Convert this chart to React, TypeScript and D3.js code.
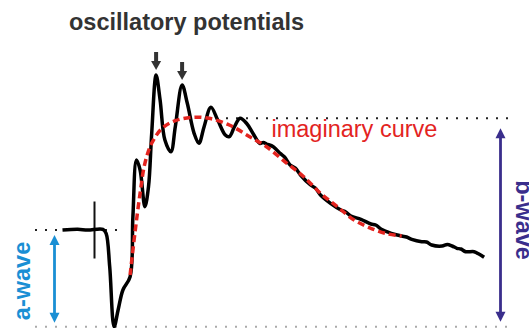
import * as d3 from 'd3';
import { useEffect, useRef } from 'react';

// ERG trace, time in ms (flash at 0), amplitude in µV
const traceTime = [-8.0, -4.2, -1.7, 2.1, 2.9, 3.8, 4.9, 5.9, 7.1, 8.9, 9.6, 10.5, 11.4, 12.6, 13.5, 14.3, 15.4, 16.4, 17.6, 19.1, 20.2, 21.9, 23.2, 24.9, 26.1, 27.4, 29.1, 30.8, 32.7, 33.7, 35.0, 36.4, 38.0, 39.6, 41.3, 42.2, 43.0, 44.7, 46.4, 47.5, 48.9, 50.2, 51.5, 54.0, 55.2, 56.5, 59.0, 61.6, 62.8, 64.1, 66.6, 69.1, 70.3, 71.7, 74.2, 76.8, 78.0, 79.3, 81.8, 83.0, 84.3, 86.9, 88.2, 89.4, 90.6, 91.6, 92.8, 94.9, 96.1, 97.4];
const traceValue = [0, 1.4, 0, 1.4, -6.6, -73.4, -193.4, -160, -120, -93.4, 26.6, 140, 120, 46.6, 86.6, 193.4, 310, 260, 180, 156.6, 206.6, 290, 253.4, 193.4, 173.4, 206.6, 245.4, 220, 190, 186.6, 206.6, 223.4, 213.4, 193.4, 173.4, 175, 172, 166.6, 153.4, 146, 130, 124, 110, 90, 84, 70, 53.4, 40, 36, 28, 21.4, 12, 10, 1.4, -6.6, -12, -14, -18.6, -23.4, -24, -30, -32, -29, -32, -36.6, -38, -43.4, -43.4, -48, -54.6];

// smooth "imaginary curve" without the oscillations
const fitTime = [8.9, 10.1, 11.4, 12.6, 14.3, 16.9, 20.2, 24.5, 28.6, 33.7, 38.8, 43.0, 48.1, 52.3, 56.5, 60.7, 64.9, 69.1, 73.4, 76.8];
const fitValue = [-90, -6.6, 73.4, 133.4, 173.4, 203.4, 218.6, 225.4, 223.4, 210, 186.6, 166.6, 133.4, 106.6, 73.4, 46.6, 20, 3.4, -8, -12];

// oscillatory potential peaks marked with arrows
const opTime = [15.4, 21.9];
const opValue = [310, 290];

const baseline = 0;
const aTrough = -193.4;
const bPeak = 223.4;

export default function App() {
    const ref = useRef(null);
    const width = 529, height = 328;

    useEffect(() => {
        drawChart();
    }, []);

    function drawChart() {
        const svg = d3.select(ref.current);
        svg.selectAll('*').remove();

        const x = d3.scaleLinear().domain([-10, 100]).range([54.5, 494.5]);
        const y = d3.scaleLinear().domain([-200, 300]).range([330, 80]);

        const dotted = (x1, x2, v, color) => {
            svg.append('line')
                .attr('x1', x1).attr('x2', x2)
                .attr('y1', y(v)).attr('y2', y(v))
                .attr('stroke', color)
                .attr('stroke-width', 2)
                .attr('stroke-dasharray', '2 8');
        };
        dotted(35, 117, baseline, '#222');
        dotted(216, 512, bPeak, '#222');
        dotted(35, 514, aTrough, '#aaa');

        // stimulus marker
        svg.append('line')
            .attr('x1', x(0)).attr('x2', x(0))
            .attr('y1', 201.5).attr('y2', 258.5)
            .attr('stroke', '#111')
            .attr('stroke-width', 2);

        // double headed arrows
        const arrow = (ax, y1, y2, color) => {
            const hw = 5, hl = 10;
            svg.append('line')
                .attr('x1', ax).attr('x2', ax)
                .attr('y1', y1 + hl - 1).attr('y2', y2 - hl + 1)
                .attr('stroke', color).attr('stroke-width', 2.8);
            svg.append('path')
                .attr('d', `M${ax},${y1} L${ax + hw},${y1 + hl} L${ax - hw},${y1 + hl} Z`)
                .attr('fill', color);
            svg.append('path')
                .attr('d', `M${ax},${y2} L${ax + hw},${y2 - hl} L${ax - hw},${y2 - hl} Z`)
                .attr('fill', color);
        };
        arrow(54.5, y(baseline) + 5, y(aTrough) - 4, '#1a8fd4');
        arrow(500.5, y(bPeak) + 10, y(aTrough) - 5, '#3a2e8c');

        const line = d3.line()
            .x(function (d) { return x(d[0]); })
            .y(function (d) { return y(d[1]); })
            .curve(d3.curveCatmullRom);

        // black ERG trace
        svg.append('path')
            .attr('d', line(traceTime.map((t, i) => [t, traceValue[i]])))
            .attr('fill', 'none')
            .attr('stroke', '#000')
            .attr('stroke-width', 3.5)
            .attr('stroke-linejoin', 'round');

        // red dashed imaginary curve
        svg.append('path')
            .attr('d', line(fitTime.map((t, i) => [t, fitValue[i]])))
            .attr('fill', 'none')
            .attr('stroke', '#e3241f')
            .attr('stroke-width', 3.5)
            .attr('stroke-dasharray', '7 4');

        // small arrows above OP peaks
        opTime.forEach((t, i) => {
            const ax = x(t), tip = y(opValue[i]) - 5;
            svg.append('rect')
                .attr('x', ax - 2).attr('y', tip - 18)
                .attr('width', 4).attr('height', 10)
                .attr('fill', '#333');
            svg.append('path')
                .attr('d', `M${ax - 5},${tip - 9} L${ax + 5},${tip - 9} L${ax},${tip} Z`)
                .attr('fill', '#333');
        });

        svg.append('text')
            .attr('x', 69).attr('y', 30)
            .attr('font-family', 'Liberation Sans, Arial, sans-serif')
            .attr('font-weight', 'bold')
            .attr('font-size', 23.5)
            .attr('fill', '#333')
            .text('oscillatory potentials');

        svg.append('text')
            .attr('x', 271.5).attr('y', 136.5)
            .attr('font-family', 'Liberation Sans, Arial, sans-serif')
            .attr('font-size', 23.5)
            .attr('fill', '#e3241f')
            .text('imaginary curve');

        svg.append('text')
            .attr('transform', 'translate(29.5,281) rotate(-90)')
            .attr('text-anchor', 'middle')
            .attr('font-family', 'Liberation Sans, Arial, sans-serif')
            .attr('font-weight', 'bold')
            .attr('font-size', 23.5)
            .attr('fill', '#1a8fd4')
            .text('a-wave');

        // cut off at the right edge, as in the original figure
        svg.append('text')
            .attr('transform', 'translate(516,220) rotate(90)')
            .attr('text-anchor', 'middle')
            .attr('font-family', 'Liberation Sans, Arial, sans-serif')
            .attr('font-weight', 'bold')
            .attr('font-size', 23.5)
            .attr('fill', '#3a2e8c')
            .text('b-wave');
    }

    return (
        <svg ref={ref} width={width} height={height}
            style={{ position: 'absolute', left: 0, top: 0, background: '#fff' }} />
    );
}
